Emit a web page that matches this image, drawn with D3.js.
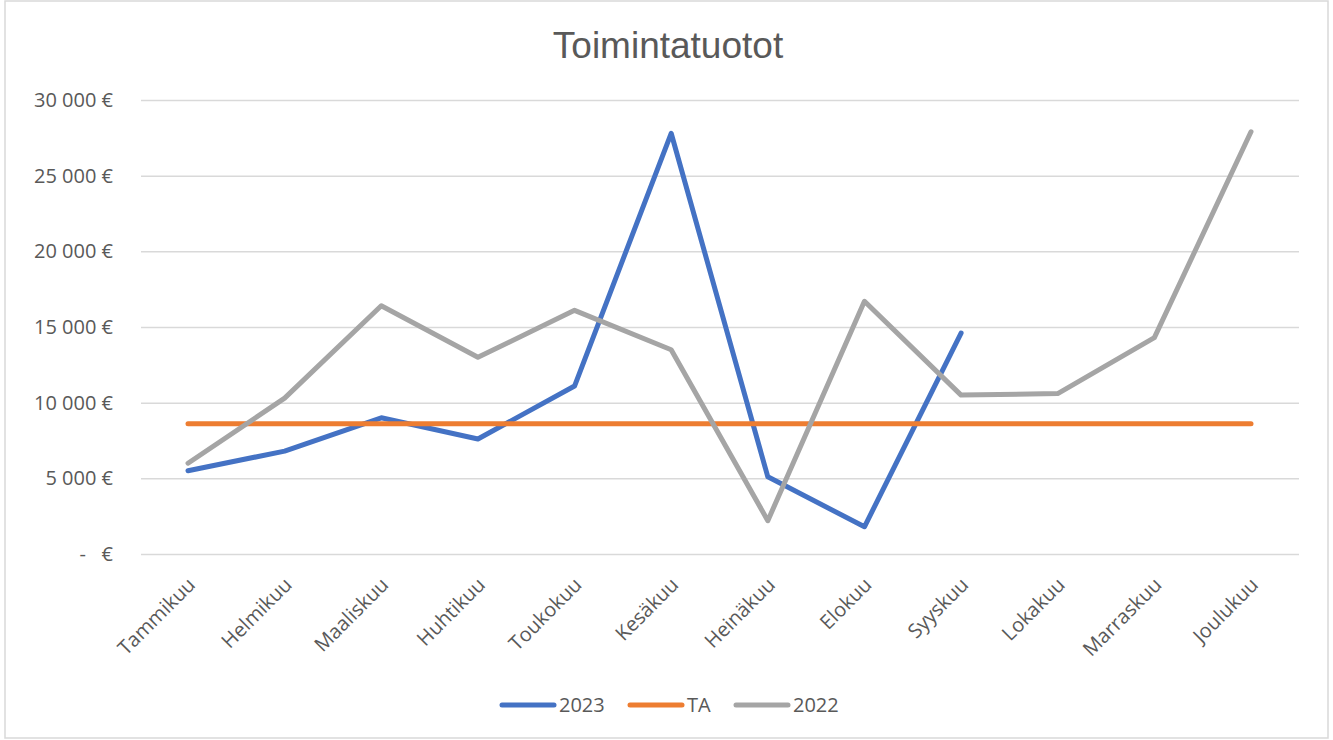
<!DOCTYPE html>
<html>
<head>
    <meta charset="utf-8">
    <style>
        body { margin: 0; background: #fff; }
        .title { font: 37px "Liberation Sans", Arial, sans-serif; fill: #595959; }
        .axis text { font: 20px "Open Sans", sans-serif; fill: #595959; white-space: pre; }
        .legend text { font: 20px "Open Sans", sans-serif; fill: #595959; }
    </style>
    <script src="https://d3js.org/d3.v7.min.js"></script>
</head>
<body>
    <svg width="1333" height="740"></svg>
    <script>
        // chart data
        var months = ["Tammikuu", "Helmikuu", "Maaliskuu", "Huhtikuu", "Toukokuu", "Kesäkuu",
                      "Heinäkuu", "Elokuu", "Syyskuu", "Lokakuu", "Marraskuu", "Joulukuu"];
        var values2023 = [5500, 6800, 9000, 7600, 11100, 27800, 5100, 1800, 14600];
        var valuesTA = [8600, 8600, 8600, 8600, 8600, 8600, 8600, 8600, 8600, 8600, 8600, 8600];
        var values2022 = [6000, 10300, 16400, 13000, 16100, 13500, 2200, 16700, 10500, 10600, 14300, 27900];
        var yTicks = [0, 5000, 10000, 15000, 20000, 25000, 30000];
        var seriesNames = ["2023", "TA", "2022"];
        var seriesColors = ["#4472C4", "#ED7D31", "#A5A5A5"];

        var svg = d3.select("svg");

        // outer chart border
        svg.append("rect")
           .attr("x", 5).attr("y", 1)
           .attr("width", 1323).attr("height", 737)
           .attr("fill", "none")
           .attr("stroke", "#d9d9d9")
           .attr("stroke-width", 1.5);

        svg.append("text")
           .attr("class", "title")
           .attr("x", 668).attr("y", 58)
           .attr("text-anchor", "middle")
           .text("Toimintatuotot");

        var x = d3.scalePoint()
                  .domain(months)
                  .range([188, 1251]);

        var y = d3.scaleLinear()
                  .domain([0, 30000])
                  .range([554, 100]);

        var fmt = function(d) {
            if (d === 0) return "-   €";
            return d3.format(",")(d).replace(/,/g, " ") + " €";
        };

        // gridlines + y labels
        var yAxis = svg.append("g")
                       .attr("class", "axis")
                       .attr("transform", "translate(141,0)")
                       .call(d3.axisLeft(y).tickValues(yTicks).tickSize(-1158).tickFormat(fmt).tickPadding(28));
        yAxis.select(".domain").remove();
        yAxis.selectAll("line").attr("stroke", "#d9d9d9").attr("stroke-width", 1.5);

        // x labels
        var xAxis = svg.append("g")
                       .attr("class", "axis")
                       .attr("transform", "translate(0,554)")
                       .call(d3.axisBottom(x).tickSize(0));
        xAxis.select(".domain").remove();
        xAxis.selectAll("text")
             .attr("text-anchor", "end")
             .attr("dy", null)
             .attr("y", null)
             .attr("transform", "translate(8,32) rotate(-45)");

        var line = d3.line()
                     .x(function(d, i) { return x(months[i]); })
                     .y(function(d) { return y(d); });

        var series = [values2023, valuesTA, values2022];
        series.forEach(function(vals, i) {
            svg.append("path")
               .datum(vals)
               .attr("d", line)
               .attr("fill", "none")
               .attr("stroke", seriesColors[i])
               .attr("stroke-width", 5)
               .attr("stroke-linejoin", "round")
               .attr("stroke-linecap", "round");
        });

        // legend
        var legendX = [500, 628, 734];
        var legend = svg.append("g").attr("class", "legend");
        seriesNames.forEach(function(name, i) {
            legend.append("line")
                  .attr("x1", legendX[i] + 2).attr("x2", legendX[i] + 54)
                  .attr("y1", 705).attr("y2", 705)
                  .attr("stroke", seriesColors[i])
                  .attr("stroke-width", 5)
                  .attr("stroke-linecap", "round");
            legend.append("text")
                  .attr("x", legendX[i] + 59).attr("y", 712)
                  .text(name);
        });
    </script>
</body>
</html>
